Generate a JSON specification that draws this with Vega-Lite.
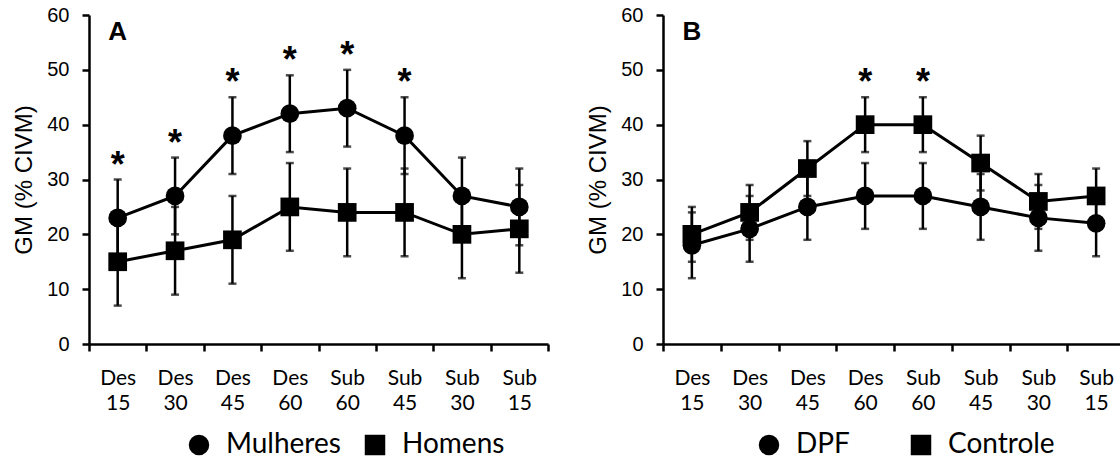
{
  "$schema": "https://vega.github.io/schema/vega-lite/v6.json",
  "background": "white",
  "padding": {"left": 12, "top": 5, "right": 0, "bottom": 0},
  "spacing": 36,
  "config": {
    "view": {"stroke": null},
    "font": "Liberation Sans",
    "axis": {
      "domainColor": "black",
      "tickColor": "black",
      "labelColor": "black",
      "titleColor": "black",
      "domainWidth": 2.5,
      "tickWidth": 2.5,
      "tickSize": 7,
      "grid": false
    },
    "axisY": {
      "labelFont": "Liberation Sans",
      "labelFontSize": 20,
      "labelPadding": 13,
      "titleFont": "Liberation Sans",
      "titleFontSize": 24,
      "titleFontWeight": "normal",
      "titlePadding": 10
    },
    "axisX": {
      "labelFont": "Lato",
      "labelFontSize": 21,
      "labelAngle": 0,
      "labelLineHeight": 25,
      "labelPadding": 16,
      "labelBaseline": "top",
      "tickBand": "extent"
    },
    "legend": {
      "orient": "none",
      "direction": "horizontal",
      "labelFont": "Lato",
      "labelFontSize": 28,
      "labelColor": "black",
      "symbolSize": 420,
      "symbolFillColor": "black",
      "symbolStrokeColor": "black",
      "symbolStrokeWidth": 0,
      "labelOffset": 13,
      "gridAlign": "all",
      "padding": 0
    }
  },
  "resolve": {
    "scale": {"x": "independent", "y": "independent", "shape": "independent"},
    "legend": {"shape": "independent"}
  },
  "hconcat": [
    {
      "width": 459,
      "height": 329,
      "data": {
        "values": [
          {"tempo": "Des 15", "grupo": "Mulheres", "media": 23, "lo": 16, "hi": 30, "sig": true},
          {"tempo": "Des 30", "grupo": "Mulheres", "media": 27, "lo": 20, "hi": 34, "sig": true},
          {"tempo": "Des 45", "grupo": "Mulheres", "media": 38, "lo": 31, "hi": 45, "sig": true},
          {"tempo": "Des 60", "grupo": "Mulheres", "media": 42, "lo": 35, "hi": 49, "sig": true},
          {"tempo": "Sub 60", "grupo": "Mulheres", "media": 43, "lo": 36, "hi": 50, "sig": true},
          {"tempo": "Sub 45", "grupo": "Mulheres", "media": 38, "lo": 31, "hi": 45, "sig": true},
          {"tempo": "Sub 30", "grupo": "Mulheres", "media": 27, "lo": 20, "hi": 34, "sig": false},
          {"tempo": "Sub 15", "grupo": "Mulheres", "media": 25, "lo": 18, "hi": 32, "sig": false},
          {"tempo": "Des 15", "grupo": "Homens", "media": 15, "lo": 7, "hi": 23, "sig": false},
          {"tempo": "Des 30", "grupo": "Homens", "media": 17, "lo": 9, "hi": 25, "sig": false},
          {"tempo": "Des 45", "grupo": "Homens", "media": 19, "lo": 11, "hi": 27, "sig": false},
          {"tempo": "Des 60", "grupo": "Homens", "media": 25, "lo": 17, "hi": 33, "sig": false},
          {"tempo": "Sub 60", "grupo": "Homens", "media": 24, "lo": 16, "hi": 32, "sig": false},
          {"tempo": "Sub 45", "grupo": "Homens", "media": 24, "lo": 16, "hi": 32, "sig": false},
          {"tempo": "Sub 30", "grupo": "Homens", "media": 20, "lo": 12, "hi": 28, "sig": false},
          {"tempo": "Sub 15", "grupo": "Homens", "media": 21, "lo": 13, "hi": 29, "sig": false}
        ]
      },
      "encoding": {
        "x": {
          "field": "tempo",
          "type": "nominal",
          "sort": ["Des 15", "Des 30", "Des 45", "Des 60", "Sub 60", "Sub 45", "Sub 30", "Sub 15"],
          "scale": {"type": "band", "paddingInner": 0, "paddingOuter": 0},
          "axis": {"title": null, "labelExpr": "split(datum.label, ' ')"}
        }
      },
      "layer": [
        {
          "mark": {"type": "rule", "strokeWidth": 2.5, "color": "black"},
          "encoding": {
            "y": {
              "field": "lo",
              "type": "quantitative",
              "title": "GM (% CIVM)",
              "scale": {"domain": [0, 60], "nice": false, "zero": true},
              "axis": {"values": [0, 10, 20, 30, 40, 50, 60]}
            },
            "y2": {"field": "hi"}
          }
        },
        {
          "mark": {"type": "tick", "thickness": 2.5, "size": 8, "color": "black", "orient": "horizontal"},
          "encoding": {"y": {"field": "lo", "type": "quantitative", "title": "GM (% CIVM)"}}
        },
        {
          "mark": {"type": "tick", "thickness": 2.5, "size": 8, "color": "black", "orient": "horizontal"},
          "encoding": {"y": {"field": "hi", "type": "quantitative", "title": "GM (% CIVM)"}}
        },
        {
          "mark": {"type": "line", "strokeWidth": 3, "color": "black"},
          "encoding": {
            "y": {"field": "media", "type": "quantitative", "title": "GM (% CIVM)"},
            "detail": {"field": "grupo"}
          }
        },
        {
          "mark": {"type": "point", "filled": true, "size": 350, "opacity": 1, "color": "black"},
          "encoding": {
            "y": {"field": "media", "type": "quantitative", "title": "GM (% CIVM)"},
            "shape": {
              "field": "grupo",
              "type": "nominal",
              "scale": {"domain": ["Mulheres", "Homens"], "range": ["circle", "square"]},
              "legend": {"title": null, "orient": "none", "legendX": 96, "legendY": 416, "columnPadding": 20}
            }
          }
        },
        {
          "transform": [{"filter": "datum.sig"}],
          "mark": {"type": "text", "text": "*", "font": "Liberation Sans", "fontWeight": "bold", "fontSize": 36, "baseline": "alphabetic", "dy": -3, "color": "black"},
          "encoding": {"y": {"field": "hi", "type": "quantitative", "title": "GM (% CIVM)"}}
        },
        {
          "data": {"values": [{"painel": "A", "tempo": "Des 15", "pos": 55.5}]},
          "mark": {"type": "text", "font": "Liberation Sans", "fontWeight": "bold", "fontSize": 26, "baseline": "alphabetic", "color": "black"},
          "encoding": {
            "y": {"field": "pos", "type": "quantitative", "title": "GM (% CIVM)"},
            "text": {"field": "painel"}
          }
        }
      ]
    },
    {
      "width": 462,
      "height": 329,
      "data": {
        "values": [
          {"tempo": "Des 15", "grupo": "DPF", "media": 18, "lo": 12, "hi": 24, "sig": false},
          {"tempo": "Des 30", "grupo": "DPF", "media": 21, "lo": 15, "hi": 27, "sig": false},
          {"tempo": "Des 45", "grupo": "DPF", "media": 25, "lo": 19, "hi": 31, "sig": false},
          {"tempo": "Des 60", "grupo": "DPF", "media": 27, "lo": 21, "hi": 33, "sig": false},
          {"tempo": "Sub 60", "grupo": "DPF", "media": 27, "lo": 21, "hi": 33, "sig": false},
          {"tempo": "Sub 45", "grupo": "DPF", "media": 25, "lo": 19, "hi": 31, "sig": false},
          {"tempo": "Sub 30", "grupo": "DPF", "media": 23, "lo": 17, "hi": 29, "sig": false},
          {"tempo": "Sub 15", "grupo": "DPF", "media": 22, "lo": 16, "hi": 28, "sig": false},
          {"tempo": "Des 15", "grupo": "Controle", "media": 20, "lo": 15, "hi": 25, "sig": false},
          {"tempo": "Des 30", "grupo": "Controle", "media": 24, "lo": 19, "hi": 29, "sig": false},
          {"tempo": "Des 45", "grupo": "Controle", "media": 32, "lo": 27, "hi": 37, "sig": false},
          {"tempo": "Des 60", "grupo": "Controle", "media": 40, "lo": 35, "hi": 45, "sig": true},
          {"tempo": "Sub 60", "grupo": "Controle", "media": 40, "lo": 35, "hi": 45, "sig": true},
          {"tempo": "Sub 45", "grupo": "Controle", "media": 33, "lo": 28, "hi": 38, "sig": false},
          {"tempo": "Sub 30", "grupo": "Controle", "media": 26, "lo": 21, "hi": 31, "sig": false},
          {"tempo": "Sub 15", "grupo": "Controle", "media": 27, "lo": 22, "hi": 32, "sig": false}
        ]
      },
      "encoding": {
        "x": {
          "field": "tempo",
          "type": "nominal",
          "sort": ["Des 15", "Des 30", "Des 45", "Des 60", "Sub 60", "Sub 45", "Sub 30", "Sub 15"],
          "scale": {"type": "band", "paddingInner": 0, "paddingOuter": 0},
          "axis": {"title": null, "labelExpr": "split(datum.label, ' ')"}
        }
      },
      "layer": [
        {
          "mark": {"type": "rule", "strokeWidth": 2.5, "color": "black"},
          "encoding": {
            "y": {
              "field": "lo",
              "type": "quantitative",
              "title": "GM (% CIVM)",
              "scale": {"domain": [0, 60], "nice": false, "zero": true},
              "axis": {"values": [0, 10, 20, 30, 40, 50, 60]}
            },
            "y2": {"field": "hi"}
          }
        },
        {
          "mark": {"type": "tick", "thickness": 2.5, "size": 8, "color": "black", "orient": "horizontal"},
          "encoding": {"y": {"field": "lo", "type": "quantitative", "title": "GM (% CIVM)"}}
        },
        {
          "mark": {"type": "tick", "thickness": 2.5, "size": 8, "color": "black", "orient": "horizontal"},
          "encoding": {"y": {"field": "hi", "type": "quantitative", "title": "GM (% CIVM)"}}
        },
        {
          "mark": {"type": "line", "strokeWidth": 3, "color": "black"},
          "encoding": {
            "y": {"field": "media", "type": "quantitative", "title": "GM (% CIVM)"},
            "detail": {"field": "grupo"}
          }
        },
        {
          "mark": {"type": "point", "filled": true, "size": 350, "opacity": 1, "color": "black"},
          "encoding": {
            "y": {"field": "media", "type": "quantitative", "title": "GM (% CIVM)"},
            "shape": {
              "field": "grupo",
              "type": "nominal",
              "scale": {"domain": ["DPF", "Controle"], "range": ["circle", "square"]},
              "legend": {"title": null, "orient": "none", "legendX": 92, "legendY": 416, "columnPadding": 4}
            }
          }
        },
        {
          "transform": [{"filter": "datum.sig"}],
          "mark": {"type": "text", "text": "*", "font": "Liberation Sans", "fontWeight": "bold", "fontSize": 36, "baseline": "alphabetic", "dy": -3, "color": "black"},
          "encoding": {"y": {"field": "hi", "type": "quantitative", "title": "GM (% CIVM)"}}
        },
        {
          "data": {"values": [{"painel": "B", "tempo": "Des 15", "pos": 55.5}]},
          "mark": {"type": "text", "font": "Liberation Sans", "fontWeight": "bold", "fontSize": 26, "baseline": "alphabetic", "color": "black"},
          "encoding": {
            "y": {"field": "pos", "type": "quantitative", "title": "GM (% CIVM)"},
            "text": {"field": "painel"}
          }
        }
      ]
    }
  ]
}
